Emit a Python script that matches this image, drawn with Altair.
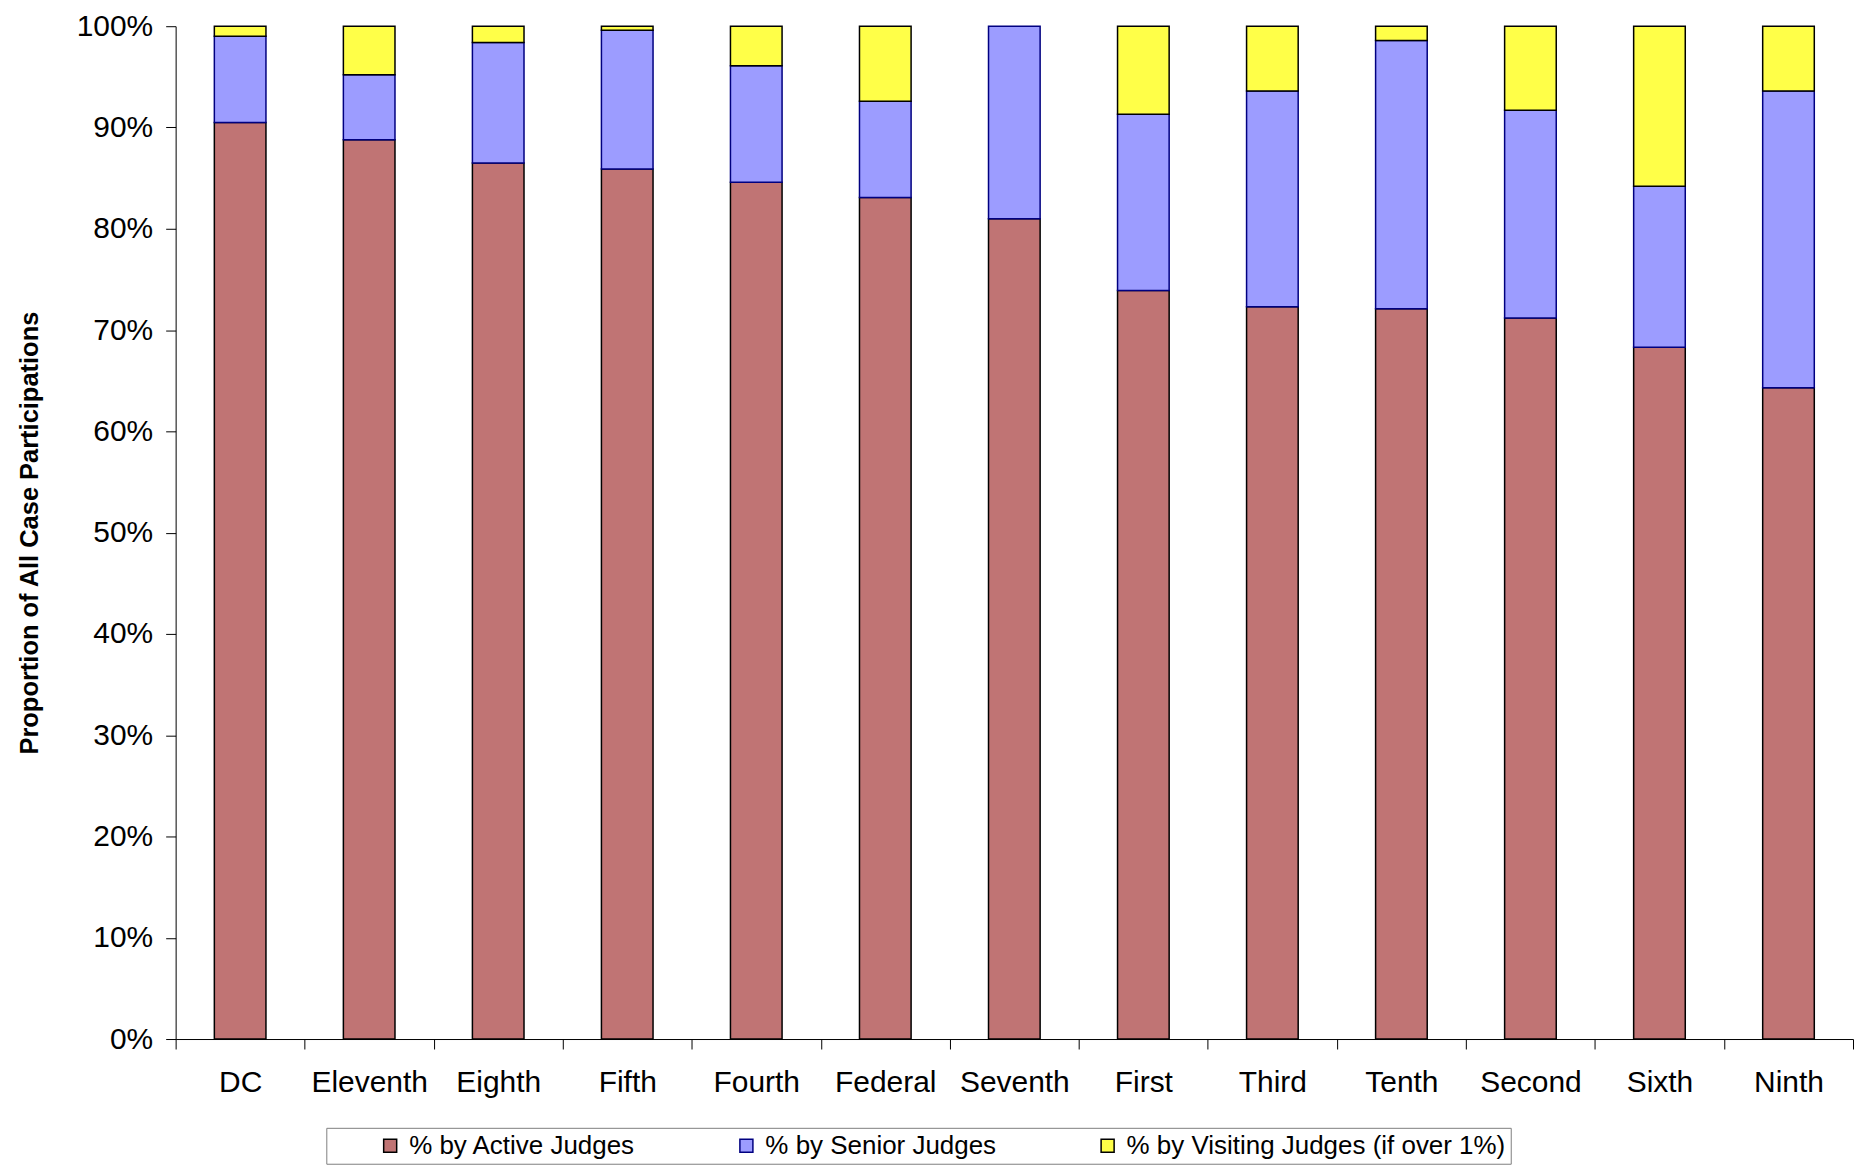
import altair as alt
import pandas as pd

circuits = ["DC", "Eleventh", "Eighth", "Fifth", "Fourth", "Federal", "Seventh",
            "First", "Third", "Tenth", "Second", "Sixth", "Ninth"]
active = [90.5, 88.8, 86.5, 85.9, 84.6, 83.1, 81.0, 73.9, 72.3, 72.1, 71.2, 68.3, 64.3]
senior = [8.5, 6.4, 11.9, 13.7, 11.5, 9.5, 19.0, 17.4, 21.3, 26.5, 20.5, 15.9, 29.3]
visiting = [1.0, 4.8, 1.6, 0.4, 3.9, 7.4, 0.0, 8.7, 6.4, 1.4, 8.3, 15.8, 6.4]

series = ["% by Active Judges", "% by Senior Judges", "% by Visiting Judges (if over 1%)"]
fills = ["#C07474", "#9C9CFF", "#FFFF48"]
strokes = ["#000000", "#000080", "#000000"]

rows = []
for i, c in enumerate(circuits):
    for k, (s, vals) in enumerate(zip(series, [active, senior, visiting])):
        if vals[i] > 0:
            rows.append({"circuit": c, "series": s, "order": k, "value": vals[i] / 100})
df = pd.DataFrame(rows)

FONT = "Liberation Sans"

legend = alt.Legend(
    title=None, orient="none", legendX=151, legendY=1104, direction="horizontal",
    columns=3, strokeColor="#808080", padding=5, labelFontSize=26, labelFont=FONT,
    labelColor="black", symbolType="square", symbolSize=170, symbolStrokeWidth=1.5,
    symbolOffset=46, columnPadding=52, labelOffset=6, labelLimit=500,
)

chart = alt.Chart(df).mark_bar(width=alt.RelativeBandSize(0.4), strokeWidth=1.5).encode(
    x=alt.X("circuit:N", sort=circuits,
            scale=alt.Scale(paddingInner=0, paddingOuter=0),
            axis=alt.Axis(title=None, labelAngle=0, tickBand="extent", labelFontSize=30,
                          labelFont=FONT, labelColor="black", labelPadding=19, tickSize=10,
                          tickColor="black", domainColor="black", grid=False)),
    y=alt.Y("value:Q", stack="zero", scale=alt.Scale(domain=[0, 1], nice=False),
            axis=alt.Axis(format=".0%", values=[i / 10 for i in range(11)],
                          title="Proportion of All Case Participations", titleFont=FONT,
                          titleFontSize=25.5, titleFontWeight="bold", titleColor="black",
                          titlePadding=34, labelFontSize=30, labelFont=FONT,
                          labelColor="black", labelPadding=13, tickSize=10,
                          tickColor="black", domainColor="black", grid=False)),
    fill=alt.Fill("series:N", scale=alt.Scale(domain=series, range=fills), legend=legend),
    stroke=alt.Stroke("series:N", scale=alt.Scale(domain=series, range=strokes), legend=legend),
    order=alt.Order("order:Q"),
).properties(
    width=1681, height=1015,
    padding={"left": 9, "top": 2, "right": 0, "bottom": 0},
).configure_view(stroke=None)

chart.save("out.html", embed_options={"renderer": "svg", "actions": False})
